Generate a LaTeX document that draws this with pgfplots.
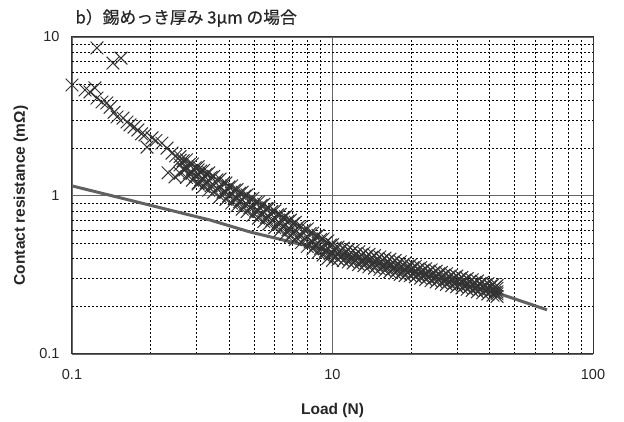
\documentclass[border=0pt]{standalone}
\usepackage{pgfplots}
\pgfplotsset{compat=1.18}
\usepackage{fontspec}
\setmainfont{Liberation Sans}
\newfontfamily\cjk{Noto Sans CJK JP}[FakeBold=0.5]
\pgfplotstableread{
x y
1.00 4.98
1.247 8.53
1.436 6.85
1.542 7.36
1.122 4.63
1.172 4.50
1.225 4.77
1.247 4.12
1.304 3.89
1.361 3.84
1.40 3.60
1.45 3.35
1.489 3.13
1.570 3.08
1.626 2.91
1.670 2.79
1.73 2.70
1.791 2.59
1.85 2.45
1.906 2.41
1.941 2.02
2.028 2.31
2.10 2.22
2.213 2.14
2.317 1.99
2.421 1.85
2.50 1.78
2.600 1.67
2.338 1.39
2.485 1.31
2.715 1.45
3.048 1.45
3.048 1.20
2.6 1.76
2.6 1.56
2.6 1.38
2.75 1.68
2.75 1.49
2.75 1.30
2.9 1.58
2.9 1.39
2.9 1.25
3.05 1.52
3.05 1.35
3.05 1.18
3.2 1.44
3.2 1.27
3.2 1.14
3.35 1.39
3.35 1.24
3.35 1.08
3.5 1.32
3.5 1.16
3.5 1.05
3.7 1.27
3.7 1.13
3.7 0.985
3.9 1.20
3.9 1.05
3.9 0.945
4.1 1.15
4.1 1.03
4.1 0.895
4.3 1.09
4.3 0.96
4.3 0.862
4.5 1.05
4.5 0.94
4.5 0.82
4.7 1.01
4.7 0.88
4.7 0.793
4.95 0.96
4.95 0.86
4.95 0.75
5.2 0.91
5.2 0.80
5.2 0.72
5.45 0.88
5.45 0.79
5.45 0.685
5.7 0.835
5.7 0.73
5.7 0.662
6.0 0.80
6.0 0.72
6.0 0.627
6.3 0.76
6.3 0.665
6.3 0.602
6.6 0.735
6.6 0.655
6.6 0.572
6.9 0.70
6.9 0.61
6.9 0.553
7.2 0.677
7.2 0.605
7.2 0.527
7.6 0.637
7.6 0.558
7.6 0.505
8.0 0.615
8.0 0.55
8.0 0.477
8.4 0.58
8.4 0.508
8.4 0.46
8.8 0.56
8.8 0.50
8.8 0.437
9.2 0.532
9.2 0.466
9.2 0.421
9.6 0.517
9.6 0.462
9.6 0.402
10.0 0.49
10.0 0.435
10.0 0.39
10.5 0.473
10.5 0.433
10.5 0.395
11.0 0.466
11.0 0.420
11.0 0.388
11.5 0.456
11.5 0.419
11.5 0.381
12.0 0.450
12.0 0.406
12.0 0.375
12.6 0.441
12.6 0.404
12.6 0.367
13.2 0.433
13.2 0.391
13.2 0.361
13.8 0.425
13.8 0.390
13.8 0.355
14.5 0.418
14.5 0.377
14.5 0.348
15.2 0.410
15.2 0.376
15.2 0.342
15.9 0.402
15.9 0.364
15.9 0.336
16.6 0.396
16.6 0.363
16.6 0.330
17.4 0.389
17.4 0.351
17.4 0.324
18.2 0.382
18.2 0.350
18.2 0.318
19.0 0.375
19.0 0.340
19.0 0.313
19.9 0.364
19.9 0.338
19.9 0.312
20.8 0.357
20.8 0.328
20.8 0.307
21.8 0.351
21.8 0.327
21.8 0.301
22.8 0.345
22.8 0.316
22.8 0.296
23.9 0.339
23.9 0.315
23.9 0.290
25.0 0.333
25.0 0.305
25.0 0.285
26.2 0.327
26.2 0.304
26.2 0.280
27.4 0.321
27.4 0.294
27.4 0.275
28.7 0.315
28.7 0.293
28.7 0.270
30.0 0.310
30.0 0.284
30.0 0.266
31.4 0.304
31.4 0.283
31.4 0.261
32.9 0.299
32.9 0.274
32.9 0.256
34.4 0.294
34.4 0.273
34.4 0.252
36.0 0.289
36.0 0.265
36.0 0.247
37.7 0.283
37.7 0.264
37.7 0.243
39.5 0.278
39.5 0.255
39.5 0.239
41.3 0.274
41.3 0.254
41.3 0.235
42.8 0.270
42.8 0.247
42.8 0.231
2.67 1.657
2.67 1.463
2.82 1.572
2.82 1.387
2.97 1.495
2.97 1.320
3.12 1.426
3.12 1.259
3.27 1.363
3.27 1.203
3.42 1.306
3.42 1.152
3.6 1.254
3.6 1.106
3.8 1.190
3.8 1.050
4.0 1.132
4.0 0.999
4.2 1.080
4.2 0.953
4.4 1.033
4.4 0.912
4.6 0.989
4.6 0.873
4.82 0.950
4.82 0.838
5.07 0.905
5.07 0.799
5.32 0.864
5.32 0.762
5.57 0.826
5.57 0.729
5.85 0.792
5.85 0.699
6.15 0.755
6.15 0.666
6.45 0.721
6.45 0.636
6.75 0.690
6.75 0.609
7.05 0.662
7.05 0.585
7.4 0.636
7.4 0.561
7.8 0.605
7.8 0.534
8.2 0.576
8.2 0.509
8.6 0.551
8.6 0.486
9.0 0.527
9.0 0.465
9.4 0.505
9.4 0.446
9.8 0.486
9.8 0.429
10.25 0.467
10.25 0.412
10.75 0.453
10.75 0.413
11.25 0.445
11.25 0.405
11.75 0.437
11.75 0.398
12.3 0.430
12.3 0.392
12.9 0.422
12.9 0.384
13.5 0.414
13.5 0.378
14.15 0.407
14.15 0.371
14.85 0.399
14.85 0.364
15.55 0.392
15.55 0.357
16.25 0.385
16.25 0.351
17.0 0.379
17.0 0.345
17.8 0.372
17.8 0.339
18.6 0.365
18.6 0.333
19.45 0.359
19.45 0.327
20.35 0.350
20.35 0.324
21.3 0.344
21.3 0.318
22.3 0.338
22.3 0.313
23.35 0.332
23.35 0.307
24.45 0.326
24.45 0.302
25.6 0.321
25.6 0.296
26.8 0.315
26.8 0.291
28.05 0.309
28.05 0.286
29.35 0.304
29.35 0.281
30.7 0.298
30.7 0.276
32.15 0.293
32.15 0.271
33.65 0.288
33.65 0.266
35.2 0.283
35.2 0.262
36.85 0.278
36.85 0.257
38.6 0.273
38.6 0.253
40.4 0.268
40.4 0.248
42.0 0.263
42.0 0.244
42.8 0.260
42.8 0.240
}\crosses
\begin{document}
\begin{tikzpicture}
\path[use as bounding box] (-72pt,-68pt) rectangle (552pt,354pt);
\begin{axis}[
  scale only axis, width=521pt, height=317pt,
  xmode=log, ymode=log, xmin=1, xmax=100, ymin=0.1, ymax=10,
  xtick={1,10,100}, xticklabels={0.1,10,100},
  ytick={0.1,1,10}, yticklabels={0.1,1,10},
  grid=both,
  major grid style={solid, black!60, line width=0.8pt},
  minor grid style={black, dash pattern=on 2pt off 2pt, line width=0.5pt},
  major tick length=0pt, minor tick length=0pt,
  axis line style={black!80, line width=1pt},
  tick label style={font=\fontsize{14.5}{16}\selectfont, black!85},
  xticklabel style={yshift=-12pt},
  yticklabel style={xshift=-9pt},
  xlabel={Load (N)}, ylabel={Contact resistance (mΩ)},
  label style={font=\fontsize{15.5}{18}\selectfont\bfseries, black!85},
  xlabel style={at={(axis description cs:0.5,-0.177)}, anchor=center},
  ylabel style={at={(axis description cs:-0.098,0.5)}, anchor=center},
  title={\cjk b）錫めっき厚み 3μm の場合},
  title style={at={(axis description cs:0,1)}, anchor=west, yshift=13pt, font=\fontsize{16.8}{19}\selectfont, black!85},
]
\addplot[only marks, mark=x, mark size=9pt, color=black!80, mark options={line width=1pt}] table {\crosses};
\addplot[line width=3pt, color=black!62] coordinates {(1,1.15) (3.39,0.70) (4.82,0.589) (10,0.44) (42.8,0.243) (66.6,0.19)};
\end{axis}
\end{tikzpicture}
\end{document}
